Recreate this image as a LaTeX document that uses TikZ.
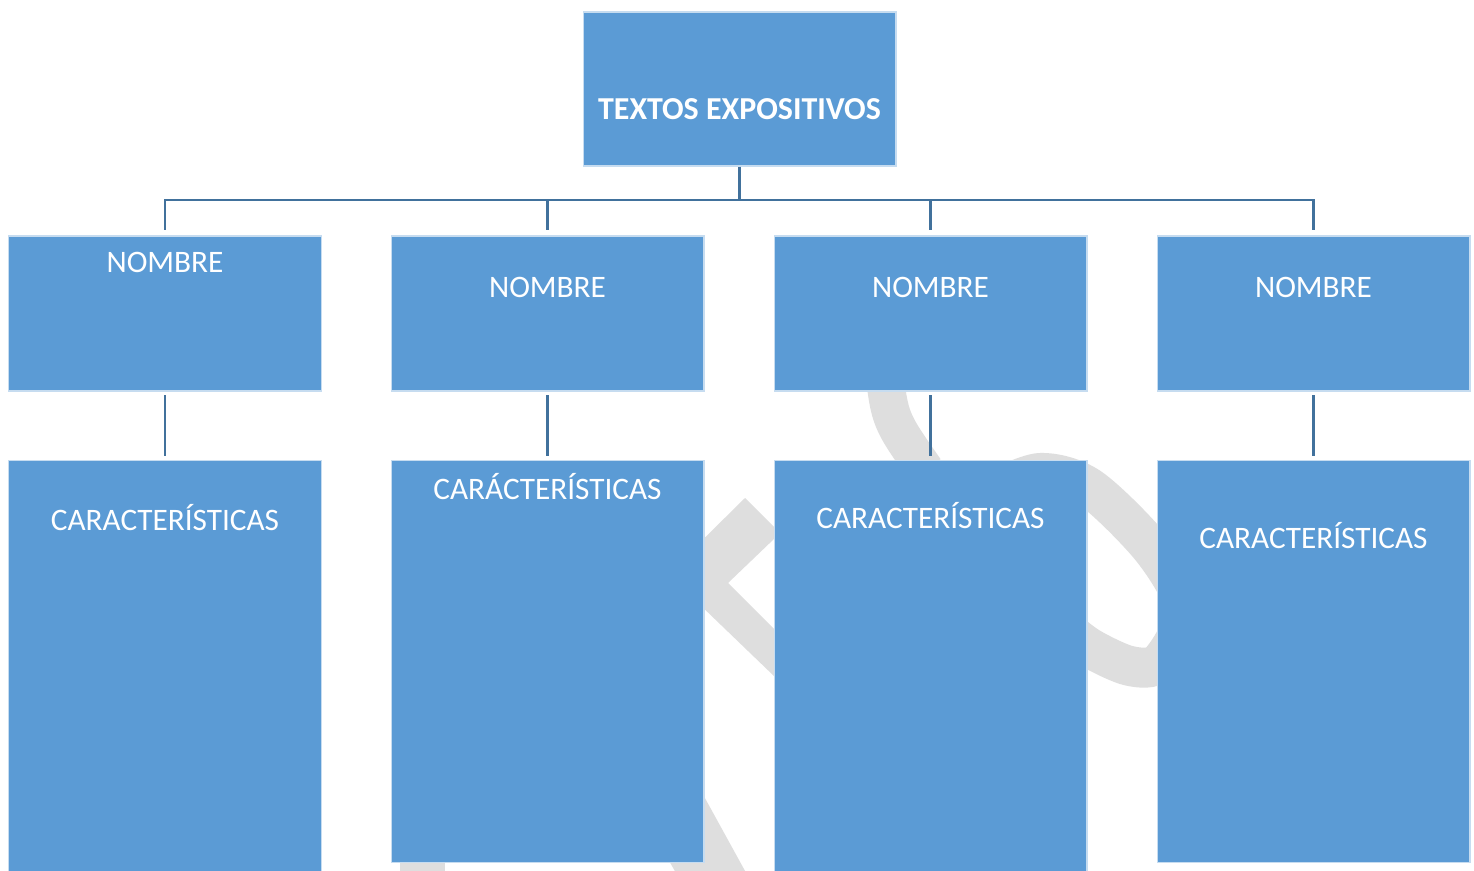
\documentclass[tikz,border=0pt]{standalone}
\usepackage{fontspec}
\setmainfont{Carlito}
\definecolor{cajaazul}{HTML}{5B9BD5}
\definecolor{enlaceazul}{HTML}{41719C}
\definecolor{marcagris}{HTML}{DEDEDE}
\tikzstyle{caja}=[draw=white!65!cajaazul, fill=cajaazul, line width=0.6pt, inner sep=0pt, minimum width=6.26cm]
\tikzstyle{rotulo}=[text=white, anchor=base, inner sep=0pt, font=\fontsize{17.8}{20}\selectfont]
\tikzstyle{enlace}=[draw=enlaceazul, line width=1.6pt]

\begin{document}
\begin{tikzpicture}[x=0.02cm, y=-0.02cm]
		\clip (0,0) rectangle (1474,871);
		\fill[white] (0,0) rectangle (1474,871);
		\fill[marcagris] (745,498) -- (775,528) -- (775,538) -- (728,583) -- (775,630) -- (775,677) -- (668,574) -- cycle;
		\fill[marcagris] (651,700) -- (750,880) -- (680,880) -- (600,740) -- cycle;
		\fill[marcagris] (400,850) rectangle (445,871);
		\draw[marcagris, line width=0.76cm] (884,370) .. controls (890,420) .. (925,470);
		\draw[marcagris, line width=0.8cm] plot[smooth] coordinates {(990,492) (1040,473) (1090,488) (1153,550) (1185,610) (1160,662) (1130,666) (1090,648) (1060,625)};
		\node[caja, minimum height=3.08cm] (textos) at (739.5,89) {};
		\node[caja, minimum height=3.1cm] (nombre1) at (165,313.5) {};
		\node[caja, minimum height=3.1cm] (nombre2) at (547.5,313.5) {};
		\node[caja, minimum height=3.1cm] (nombre3) at (930.5,313.5) {};
		\node[caja, minimum height=3.1cm] (nombre4) at (1313.5,313.5) {};
		\node[caja, minimum height=8.6cm] (carac1) at (165,675) {};
		\node[caja, minimum height=8.06cm] (carac2) at (547.5,661.5) {};
		\node[caja, minimum height=8.6cm] (carac3) at (930.5,675) {};
		\node[caja, minimum height=8.06cm] (carac4) at (1313.5,661.5) {};
		\node[rotulo, font=\fontsize{18.2}{20}\selectfont\bfseries] (titulo) at (739.5,120) {TEXTOS EXPOSITIVOS};
		\node[rotulo] (n1) at (165,273) {NOMBRE};
		\node[rotulo] (n2) at (547.5,298) {NOMBRE};
		\node[rotulo] (n3) at (930.5,298) {NOMBRE};
		\node[rotulo] (n4) at (1313.5,298) {NOMBRE};
		\node[rotulo] (c1) at (165,530) {CARACTERÍSTICAS};
		\node[rotulo] (c2) at (547.5,500) {CARÁCTERÍSTICAS};
		\node[rotulo] (c3) at (930.5,528) {CARACTERÍSTICAS};
		\node[rotulo] (c4) at (1313.5,548) {CARACTERÍSTICAS};
		\coordinate (rama) at (739.5,200);
		\draw[enlace] (textos.south) -- (rama);
		\draw[enlace, shorten >=3pt] (rama) -| (nombre1.north);
		\draw[enlace, shorten >=3pt] (rama) -| (nombre2.north);
		\draw[enlace, shorten >=3pt] (rama) -| (nombre3.north);
		\draw[enlace, shorten >=3pt] (rama) -| (nombre4.north);
		\draw[enlace, shorten <=2pt, shorten >=2pt] (nombre1.south) -- (carac1.north);
		\draw[enlace, shorten <=2pt, shorten >=2pt] (nombre2.south) -- (carac2.north);
		\draw[enlace, shorten <=2pt, shorten >=2pt] (nombre3.south) -- (carac3.north);
		\draw[enlace, shorten <=2pt, shorten >=2pt] (nombre4.south) -- (carac4.north);
\end{tikzpicture}
\end{document}
